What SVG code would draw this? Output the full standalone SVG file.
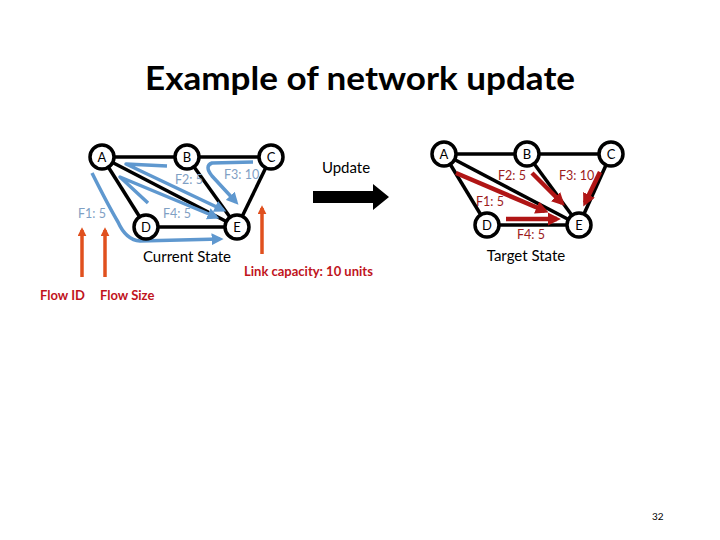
<svg xmlns="http://www.w3.org/2000/svg" width="720" height="540" viewBox="0 0 720 540">
<style>
.edge{stroke:#000;stroke-width:3.5;fill:none}
.node circle{fill:#fff;stroke:#000;stroke-width:3.5}
.node text{font-family:Lato,"Open Sans",sans-serif;font-size:13px;text-anchor:middle;fill:#000}
.blue{stroke:#5f98cf;stroke-width:3.5;fill:none;stroke-linejoin:round}
.red{stroke:#b01515;stroke-width:4.5;fill:none}
.orange{stroke:#e0501e;stroke-width:3.5;fill:none}
.bl{font-family:Lato,"Open Sans",sans-serif;font-size:12.5px;fill:#7fa0c4}
.rl{font-family:Lato,"Open Sans",sans-serif;font-size:12.5px;fill:#9c1c1c}
.cap{font-family:Lato,"Open Sans",sans-serif;font-size:15px;fill:#000}
.note{font-family:Lato,"Open Sans",sans-serif;font-size:13px;font-weight:bold;fill:#c0141c}
</style>
<defs>
<marker id="mb" viewBox="0 0 10 10" refX="7" refY="5" markerUnits="userSpaceOnUse" markerWidth="12" markerHeight="12" orient="auto"><path d="M0,0 L10,5 L0,10 z" fill="#5f98cf"/></marker>
<marker id="mr" viewBox="0 0 10 10" refX="7" refY="5" markerUnits="userSpaceOnUse" markerWidth="13" markerHeight="13" orient="auto"><path d="M0,0 L10,5 L0,10 z" fill="#b01515"/></marker>
<marker id="mo" viewBox="0 0 10 10" refX="7" refY="5" markerUnits="userSpaceOnUse" markerWidth="9" markerHeight="9" orient="auto"><path d="M0,0 L10,5 L0,10 z" fill="#e0501e"/></marker>
</defs>
<rect width="720" height="540" fill="#fff"/>
<text x="360" y="90" text-anchor="middle" font-family="Lato,'Open Sans',sans-serif" font-size="32" font-weight="bold" textLength="430" lengthAdjust="spacingAndGlyphs">Example of network update</text>

<g id="connectors">
<!-- left graph edges -->
<line class="edge" x1="102" y1="157" x2="187" y2="157"/>
<line class="edge" x1="187" y1="157" x2="271" y2="157"/>
<line class="edge" x1="102" y1="157" x2="146" y2="227"/>
<line class="edge" x1="102" y1="157" x2="237" y2="227"/>
<line class="edge" x1="187" y1="157" x2="237" y2="227"/>
<line class="edge" x1="271" y1="157" x2="237" y2="227"/>
<line class="edge" x1="146" y1="227" x2="237" y2="227"/>
<!-- right graph edges -->
<line class="edge" x1="444" y1="154" x2="527" y2="154"/>
<line class="edge" x1="527" y1="154" x2="611" y2="154"/>
<line class="edge" x1="444" y1="154" x2="487" y2="225"/>
<line class="edge" x1="444" y1="154" x2="579" y2="225"/>
<line class="edge" x1="527" y1="154" x2="579" y2="225"/>
<line class="edge" x1="611" y1="154" x2="579" y2="225"/>
<line class="edge" x1="487" y1="225" x2="579" y2="225"/>
<!-- blue flows (current) -->
<path class="blue" d="M92,173 Q108,205 118,222 Q126,240 140,241 L220,239" marker-end="url(#mb)"/>
<path class="blue" d="M167,166 L126,164 L223,210" marker-end="url(#mb)"/>
<path class="blue" d="M148,203 L120,177 L216,217" marker-end="url(#mb)"/>
<path class="blue" d="M253,162 L212,163 Q204,166 212,176 L236,202" marker-end="url(#mb)"/>
<!-- red flows (target) -->
<line class="red" x1="456" y1="173" x2="545" y2="211" marker-end="url(#mr)"/>
<line class="red" x1="532" y1="173" x2="562" y2="203" marker-end="url(#mr)"/>
<line class="red" x1="600" y1="172" x2="585" y2="203" marker-end="url(#mr)"/>
<line class="red" x1="506" y1="219" x2="557" y2="219" marker-end="url(#mr)"/>
<!-- orange pointers -->
<line class="orange" x1="82" y1="277" x2="82" y2="230" marker-end="url(#mo)"/>
<line class="orange" x1="105" y1="277" x2="105" y2="230" marker-end="url(#mo)"/>
<line class="orange" x1="262" y1="254" x2="262" y2="208" marker-end="url(#mo)"/>
<!-- update arrow -->
<path d="M313,191 L373,191 L373,184 L389,197 L373,210 L373,203 L313,203 z" fill="#000"/>
</g>

<g id="A1" class="node"><circle cx="102" cy="157" r="12"/><text x="102" y="162">A</text></g>
<g id="B1" class="node"><circle cx="187" cy="157" r="12"/><text x="187" y="162">B</text></g>
<g id="C1" class="node"><circle cx="271" cy="157" r="12"/><text x="271" y="162">C</text></g>
<g id="D1" class="node"><circle cx="146" cy="227" r="12"/><text x="146" y="232">D</text></g>
<g id="E1" class="node"><circle cx="237" cy="227" r="12"/><text x="237" y="232">E</text></g>

<g id="A2" class="node"><circle cx="444" cy="154" r="12"/><text x="444" y="159">A</text></g>
<g id="B2" class="node"><circle cx="527" cy="154" r="12"/><text x="527" y="159">B</text></g>
<g id="C2" class="node"><circle cx="611" cy="154" r="12"/><text x="611" y="159">C</text></g>
<g id="D2" class="node"><circle cx="487" cy="225" r="12"/><text x="487" y="230">D</text></g>
<g id="E2" class="node"><circle cx="579" cy="225" r="12"/><text x="579" y="230">E</text></g>

<g id="labels">
<text class="bl" x="78" y="218">F1: 5</text>
<text class="bl" x="163" y="218">F4: 5</text>
<text class="bl" x="175" y="184">F2: 5</text>
<text class="bl" x="224" y="179">F3: 10</text>
<text class="rl" x="498" y="180">F2: 5</text>
<text class="rl" x="559" y="180">F3: 10</text>
<text class="rl" x="476" y="206">F1: 5</text>
<text class="rl" x="517" y="239">F4: 5</text>
<text class="cap" x="187" y="262" text-anchor="middle">Current State</text>
<text class="cap" x="526" y="261" text-anchor="middle">Target State</text>
<text class="cap" x="346" y="173" text-anchor="middle">Update</text>
<text class="note" x="244" y="276">Link capacity: 10 units</text>
<text class="note" x="40" y="300">Flow ID</text>
<text class="note" x="100" y="300">Flow Size</text>
<text x="652" y="520" font-family="Lato,sans-serif" font-size="10" fill="#000">32</text>
</g>
</svg>
